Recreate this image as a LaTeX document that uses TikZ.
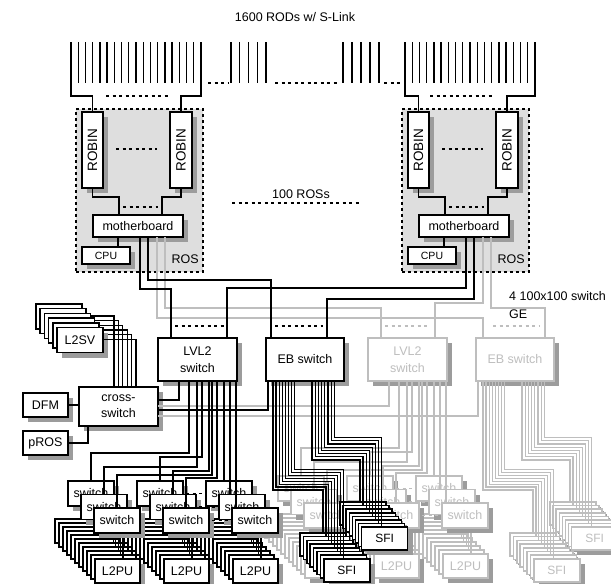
\documentclass[tikz,border=0pt]{standalone}
\usepackage{fontspec}
\usepackage{graphicx}
\setmainfont{Liberation Sans}
\usetikzlibrary{shadows}
\definecolor{shd}{HTML}{9C9C9C}
\definecolor{lg}{HTML}{BEBEBE}
\definecolor{rosfill}{HTML}{DEDEDE}
\newcommand\fs{\fontsize{12.5}{17}\selectfont}
\tikzset{
  bx/.style={draw=#1, text=#1, line width=1.5pt, fill=white, inner sep=0pt, outer sep=0pt,
     anchor=north west, align=center, font=\fs,
     drop shadow={shadow xshift=5pt, shadow yshift=-5pt, fill=shd, opacity=1}},
  bx/.default=black,
  ln/.style={draw=#1, line width=1.3pt},
  ln/.default=black,
  dotln/.style={draw=#1, line width=1.5pt, dash pattern=on 3pt off 3.5pt},
  dotln/.default=black,
}
\newcommand\rosunit[2]{%
\begin{scope}[xshift=#2pt]
  \node[draw, line width=1.7pt, dash pattern=on 3pt off 3pt, fill=rosfill,
        minimum width=127pt, minimum height=163pt, anchor=north west, inner sep=0pt] (#1box) at (75,108) {};
  \node[anchor=east, font=\fs, inner sep=0pt] (#1lab) at (199,259) {ROS};
  \node[bx, minimum width=21pt, minimum height=76pt, font=\fontsize{13.5}{14}\selectfont] (#1rb1) at (82,112) {\rotatebox{90}{ROBIN}};
  \node[bx, minimum width=22pt, minimum height=76pt, font=\fontsize{13.5}{14}\selectfont] (#1rb2) at (170,112) {\rotatebox{90}{ROBIN}};
  \node[bx, minimum width=90pt, minimum height=22pt] (#1mb) at (93,215) {motherboard};
  \node[bx, minimum width=48pt, minimum height=17pt, font=\fontsize{10.5}{12}\selectfont] (#1cpu) at (82,247) {CPU};
  \draw[dotln] (116,149) -- (157,149);
  \draw[dotln] (123,207) -- (158,207);
  \draw[ln] (#1rb1.south) -- ++(0,9) -| ([xshift=26pt]#1mb.north west);
  \draw[ln] (#1rb2.south) -- ++(0,9) -| ([xshift=69pt]#1mb.north west);
  \draw[ln] ([xshift=25pt]#1mb.south west) -- ([xshift=36pt]#1cpu.north west);
  \coordinate (#1p1) at (140,237);
  \coordinate (#1p2) at (148,237);
  \coordinate (#1p3) at (157,237);
  \coordinate (#1p4) at (165,237);
\end{scope}}
% #1 prefix, #2 colour, #3/#4 y-offsets at cross-switch, #5 y-shift of lower farm
\newcommand\subsys[5]{%
  % L2PU stacks
  \foreach \k in {2,1,0}{
    \foreach \i in {0,...,10}{
      \node[bx=#2, minimum width=45pt, minimum height=24pt] (#1pu\k-\i) at ({55+69*\k+4*\i},{519+4*\i+#5}) {\ifnum\i=10 L2PU\fi};
      \ifnum\i>4
        \draw[ln=#2] ([xshift={44-1.6*\i}]#1pu\k-\i.north west) -- ++(0,{14-4*\i});
      \fi
    }
  }
  % small switches
  \foreach \l in {0,1,2}{
    \foreach \k in {0,1,2}{
      \node[bx=#2, minimum width=46pt, minimum height=25pt] (#1sw\k-\l) at ({68+69*\k+13*\l},{481+13.5*\l+#5}) {switch};
    }
    \draw[dotln=#2] ([xshift=3pt]#1sw1-\l.east) -- ([xshift=-1pt]#1sw2-\l.west);
  }
  \node[bx=#2, minimum width=79pt, minimum height=43pt] (#1lvl2) at (158,338) {LVL2\\switch};
  \node[bx=#2, minimum width=78pt, minimum height=43pt] (#1eb) at (266,338) {EB switch};
  \foreach \ex/\hy/\k/\l in {189/453/0/0, 202/457/1/0, 197/467/0/1, 209/471/1/1, 212/475/0/2, 217/478/1/2}{
    \draw[ln=#2] (#1lvl2.south west) ++({\ex-158},0) -- ++(0,{\hy-381+#5}) -| (#1sw\k-\l.north);
  }
  \foreach \ex/\l in {224/0, 230/1, 236/2}{
    \draw[ln=#2] (#1lvl2.south west) ++({\ex-158},0) coordinate (tmp) -- (tmp |- #1sw2-\l.north);
  }
  \draw[ln=#2] (#1lvl2.south west) ++(21,0) |- ([yshift=#3pt]cs.east);
  \draw[ln=#2] (#1eb.south west) ++(2,0) |- ([yshift=#4pt]cs.east);
  % upper SFI stack
  \foreach \i in {0,...,7}{
    \node[bx=#2, minimum width=46pt, minimum height=23pt, font=\fontsize{12}{14}\selectfont] (#1sb\i) at ({340+3.1*\i},{502+3.6*\i}) {\ifnum\i=7 SFI\fi};
    \draw[ln=#2] (#1eb.south west) ++({46+3.2*\i},0) -- ++(0,{79-3.2*\i}) -| ([xshift=20pt]#1sb\i.north west);
  }
  % lower SFI stack
  \foreach \i in {0,...,7}{
    \node[bx=#2, minimum width=46pt, minimum height=23pt, font=\fontsize{12}{14}\selectfont] (#1sa\i) at ({300+3.4*\i},{533+3.7*\i}) {\ifnum\i=7 SFI\fi};
    \draw[ln=#2] (#1eb.south west) ++({7+3.1*\i},0) -- ++(0,{109-2.9*\i}) -| ([xshift={23-0.5*\i}]#1sa\i.north west);
  }
}
\begin{document}
\begin{tikzpicture}[x=1pt,y=-1pt]
\useasboundingbox (0,0) rectangle (611,584);
\clip (0,0) rectangle (611,584);
\node[font=\fs] (title) at (295,17) {1600 RODs w/ S-Link};
% ROS units
\rosunit{L}{0}
\rosunit{R}{326}
% ROD lines
\foreach \j in {1,...,17}{
  \draw[ln] ({71+130/18*\j},42) -- ++(0,41);
  \draw[ln] ({405+130/18*\j},42) -- ++(0,41);
}
\foreach \j in {0,...,4}{
  \draw[ln] ({231+8.75*\j},42) -- ++(0,41);
  \draw[ln] ({343+9*\j},42) -- ++(0,41);
}
\draw[ln] (71,42) -- (71,96) -| (Lrb1.north);
\draw[ln] (201,42) -- (201,96) -| (Lrb2.north);
\draw[ln] (405,42) -- (405,96) -| (Rrb1.north);
\draw[ln] (535,42) -- (535,96) -| (Rrb2.north);
\draw[dotln] (106,96) -- (171,96);
\draw[dotln] (430,96) -- (495,96);
\draw[dotln] (208,83) -- (229,83);
\draw[dotln] (275,83) -- (337,83);
\draw[dotln] (384,83) -- (402,83);
% 100 ROSs
\draw[dotln] (232,203) -- (362,203);
\node[font=\fs, fill=white, inner sep=1pt] (nros) at (301,194) {100 ROSs};
\node[font=\fs, anchor=west, inner sep=0pt] (swtxt) at (509,296) {4 100x100 switch};
\node[font=\fs, anchor=west, inner sep=0pt] (getxt) at (509,314) {GE};
% left side
\node[bx, minimum width=79pt, minimum height=39pt, font=\fontsize{12.5}{16}\selectfont] (cs) at (79,387) {cross-\\switch};
\foreach \j in {0,...,5}{
  \node[bx, minimum width=46pt, minimum height=25pt] (sv\j) at ({36+4.2*\j},{304+4.7*\j}) {\ifnum\j=5 L2SV\fi};
  \draw[ln] ([yshift=0.5pt]sv\j.east) -| ([xshift={35+4.4*\j}]cs.north west);
}
\node[bx, minimum width=45pt, minimum height=24pt] (dfm) at (23,393) {DFM};
\node[bx, minimum width=45pt, minimum height=24pt] (pros) at (23,431) {pROS};
\draw[ln] (dfm.east) -- (cs.west |- dfm.east);
\draw[ln] ([xshift=9pt]cs.south west) |- (pros.east);
% gray subsystem
\begin{scope}[xshift=210pt]
\subsys{g}{lg}{0.5}{-9.5}{-5}
\end{scope}
\draw[ln=lg] (Lp3) -- ++(0,81) -| ([xshift=7pt]geb.north west);
\draw[ln=lg] (Lp4) -- ++(0,71) -| ([xshift=13pt]glvl2.north west);
\draw[ln=lg] (Rp3) -- ++(0,66) -| ([xshift=67pt]glvl2.north west);
\draw[ln=lg] (Rp4) -- ++(0,71) -| ([xshift=69pt]geb.north west);
\draw[dotln=lg] (385,326) -- (430,326);
\draw[dotln=lg] (493,326) -- (539,326);
% black subsystem
\subsys{}{black}{6.5}{-3.5}{0}
\draw[ln] (Lp1) -- ++(0,52) -| ([xshift=13pt]lvl2.north west);
\draw[ln] (Lp2) -- ++(0,43) -| ([xshift=5pt]eb.north west);
\draw[ln] (Rp1) -- ++(0,51) -| ([xshift=69pt]lvl2.north west);
\draw[ln] (Rp2) -- ++(0,62) -| ([xshift=61pt]eb.north west);
\draw[dotln] (175,326) -- (225,326);
\draw[dotln] (275,326) -- (323,326);
\end{tikzpicture}
\end{document}
